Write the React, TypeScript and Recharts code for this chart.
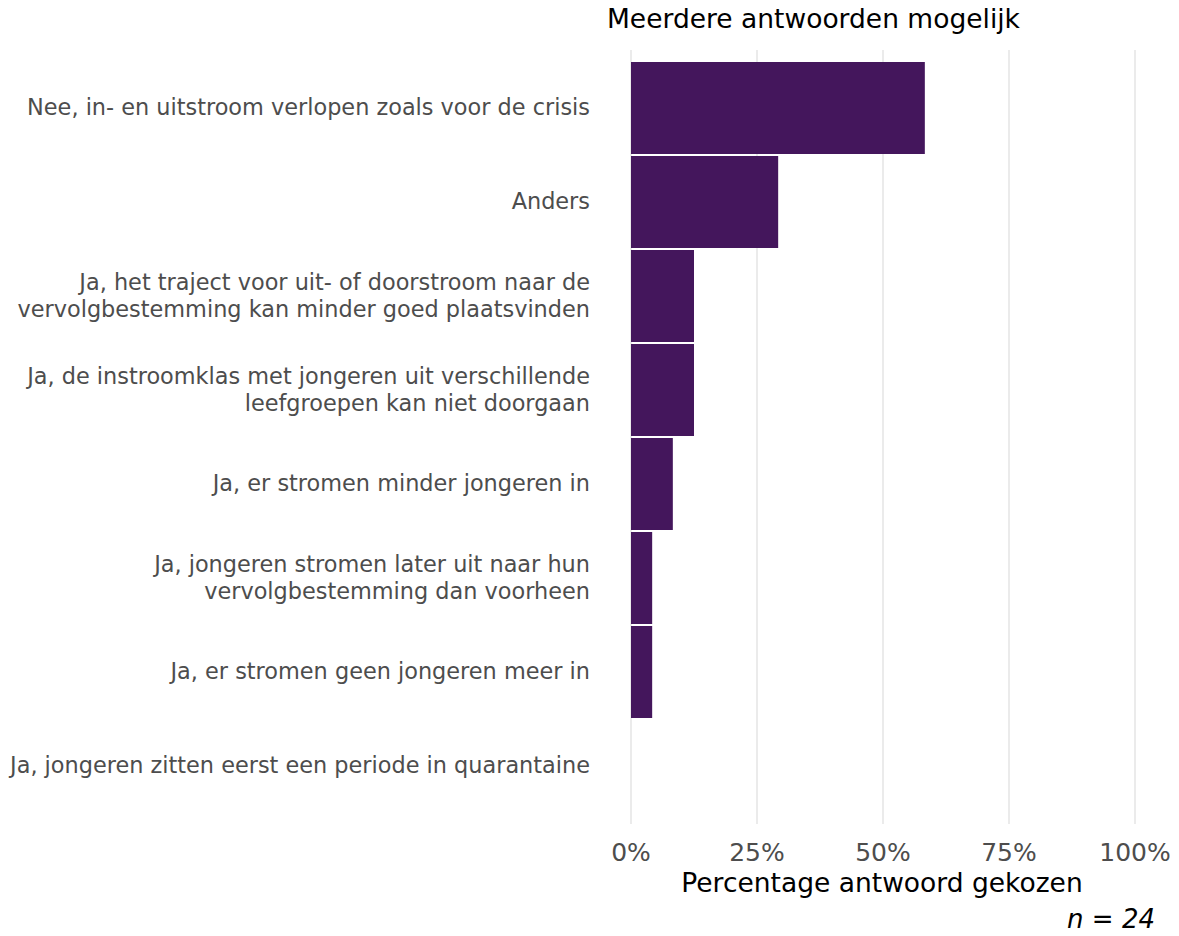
import React from "react";
import { Bar, BarChart, CartesianGrid, XAxis, YAxis } from "recharts";

const categories = [
  "Nee, in- en uitstroom verlopen zoals voor de crisis",
  "Anders",
  "Ja, het traject voor uit- of doorstroom naar de\nvervolgbestemming kan minder goed plaatsvinden",
  "Ja, de instroomklas met jongeren uit verschillende\nleefgroepen kan niet doorgaan",
  "Ja, er stromen minder jongeren in",
  "Ja, jongeren stromen later uit naar hun\nvervolgbestemming dan voorheen",
  "Ja, er stromen geen jongeren meer in",
  "Ja, jongeren zitten eerst een periode in quarantaine",
];
const shares = [0.583, 0.292, 0.125, 0.125, 0.083, 0.042, 0.042, 0];
const percentTicks = [0, 0.25, 0.5, 0.75, 1];
const tickLabels = ["0%", "25%", "50%", "75%", "100%"];

const FONT = "'DejaVu Sans', Verdana, sans-serif";

const chartData = categories.map((label, i) => ({ label, share: shares[i] }));

const CategoryTick = (props: any) => {
  const { x, y, payload } = props;
  const lines = String(payload.value).split("\n");
  const lineHeight = 27;
  const start = -((lines.length - 1) * lineHeight) / 2;
  return (
    <text
      x={x - 41}
      y={y}
      textAnchor="end"
      fill="#4d4d4d"
      fontSize={22.4}
      fontFamily={FONT}
    >
      {lines.map((line, i) => (
        <tspan key={i} x={x - 41} dy={i === 0 ? start + 7 : lineHeight}>
          {line}
        </tspan>
      ))}
    </text>
  );
};

const PercentTick = (props: any) => {
  const { x, y, payload } = props;
  const idx = percentTicks.indexOf(payload.value);
  return (
    <text
      x={x}
      y={y + 37}
      textAnchor="middle"
      fill="#4d4d4d"
      fontSize={25}
      fontFamily={FONT}
    >
      {idx >= 0 ? tickLabels[idx] : payload.value}
    </text>
  );
};

export default function App() {
  return (
    <div style={{ position: "absolute", left: 0, top: 0, width: 1179, height: 936, background: "#fff" }}>
      <BarChart
        width={1179}
        height={936}
        data={chartData}
        layout="vertical"
        margin={{ top: 50, right: 44, bottom: 0, left: 0 }}
        barCategoryGap={1}
      >
        <CartesianGrid horizontal={false} stroke="#ebebeb" strokeWidth={2} />
        <XAxis
          type="number"
          domain={[0, 1]}
          ticks={percentTicks}
          height={112}
          axisLine={false}
          tickLine={false}
          tickSize={0}
          tickMargin={0}
          tick={<PercentTick />}
          interval={0}
        />
        <YAxis
          type="category"
          dataKey="label"
          width={631}
          axisLine={false}
          tickLine={false}
          tickSize={0}
          tickMargin={0}
          tick={<CategoryTick />}
          interval={0}
          padding={{ top: 11, bottom: 11 }}
        />
        <Bar dataKey="share" fill="#44165c" isAnimationActive={false} />
      </BarChart>
      <svg
        width={1179}
        height={936}
        style={{ position: "absolute", left: 0, top: 0, pointerEvents: "none" }}
      >
        <text x={607} y={28} fontSize={26.5} fontFamily={FONT} fill="#000">
          Meerdere antwoorden mogelijk
        </text>
        <text x={882} y={892} textAnchor="middle" fontSize={26.5} fontFamily={FONT} fill="#000">
          Percentage antwoord gekozen
        </text>
        <text x={1155} y={928} textAnchor="end" fontSize={26} fontStyle="italic" fontFamily={FONT} fill="#000">
          n = 24
        </text>
      </svg>
    </div>
  );
}
